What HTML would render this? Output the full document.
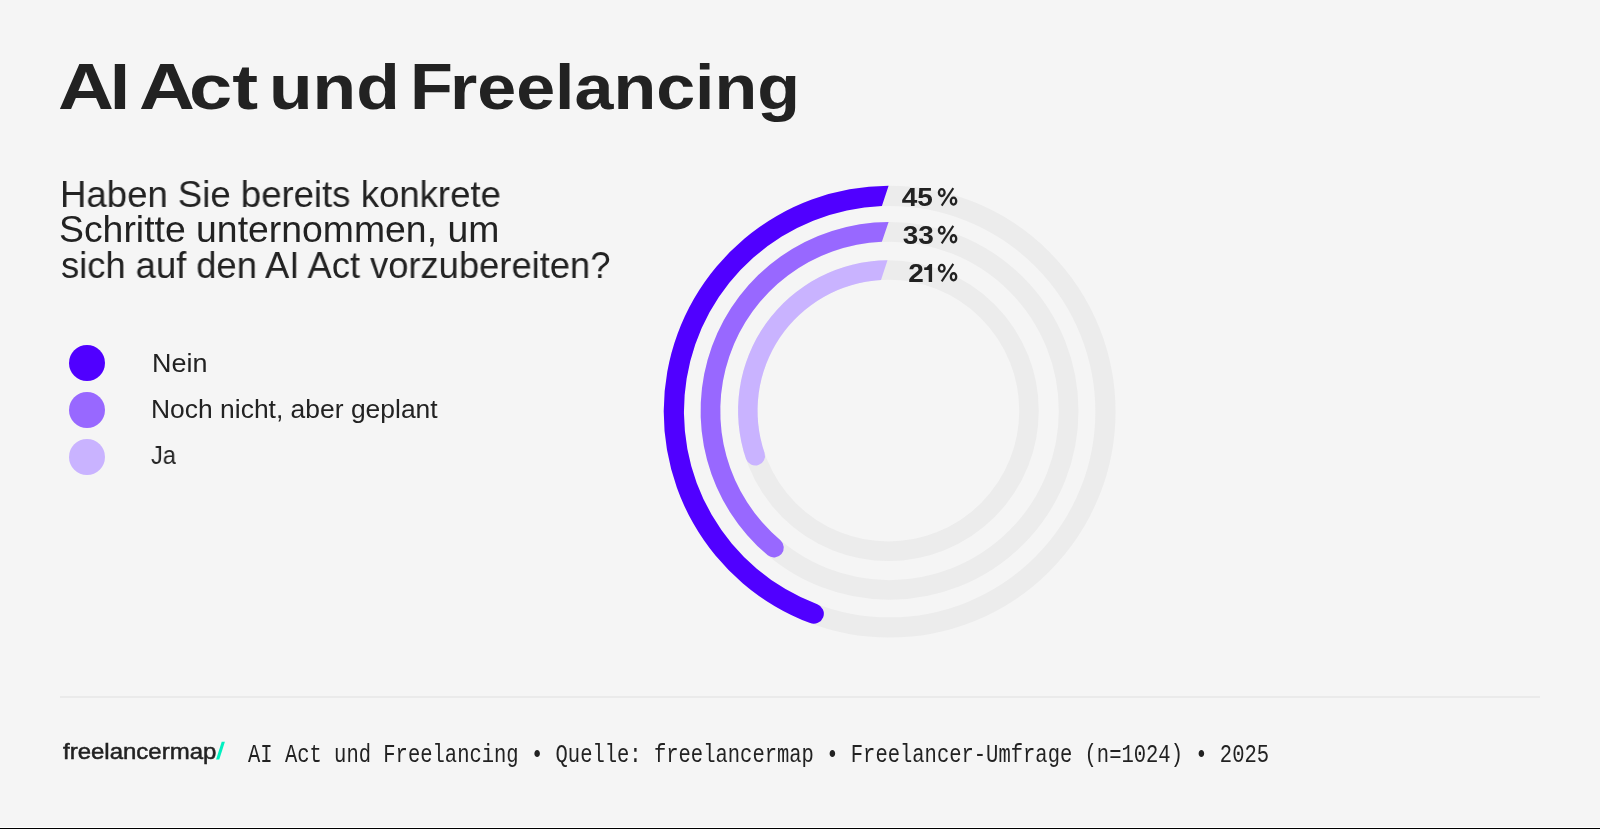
<!DOCTYPE html>
<html><head><meta charset="utf-8">
<style>
html,body{margin:0;padding:0;}
body{-webkit-font-smoothing:antialiased;width:1600px;height:829px;background:#f5f5f5;position:relative;overflow:hidden;font-family:"Liberation Sans",sans-serif;color:#222;}
.abs{position:absolute;white-space:nowrap;will-change:transform;}
.lc{display:inline-block;transform:scaleY(0.975);transform-origin:0 61px;}
.tw{top:46.5px;font-size:64px;font-weight:bold;line-height:80px;transform-origin:0 0;}
.sub{font-size:37px;line-height:40px;transform-origin:0 0;}
.dot{position:absolute;width:36px;height:36px;border-radius:50%;left:69px;}
.leg{font-size:26px;line-height:30px;transform-origin:0 0;}
.pct{font-size:25px;font-weight:bold;line-height:30px;transform-origin:0 0;}
.pc{font-weight:normal;-webkit-text-stroke:0.3px #222;}
.num{right:667px;text-align:right;transform-origin:100% 0;transform:scaleX(1.12);}
#sep{position:absolute;left:60px;top:696px;width:1480px;height:2px;background:#eaeaea;}
#logo{left:63.1px;font-size:22.5px;line-height:30px;transform-origin:0 0;transform:scaleX(1.066);-webkit-text-stroke:0.5px #222;}
#foot{left:248px;font-family:"Liberation Mono",monospace;font-size:20.5px;line-height:30px;transform-origin:0 0;transform:scaleY(1.25);}
#bot1{position:absolute;left:0;top:827px;width:1600px;height:1px;background:#fff;}
#bot2{position:absolute;left:0;top:828px;width:1600px;height:1px;background:#000;}
</style></head><body>
<div class="abs tw" style="left:57.60px;transform:scaleX(1.2100)">A</div><div class="abs tw" style="left:110.43px;transform:scaleX(1.1170)">I</div><div class="abs tw" style="left:139.08px;transform:scaleX(1.2086)">A</div><div class="abs tw" style="left:189.40px;transform:scaleX(1.2140)"><span class="lc">ct</span></div><div class="abs tw" style="left:269.29px;transform:scaleX(1.1157)"><span class="lc">und</span></div><div class="abs tw" style="left:410.07px;transform:scaleX(1.0955)">F</div><div class="abs tw" style="left:449.83px;transform:scaleX(1.0933)"><span class="lc">reelancing</span></div>
<div class="abs sub" style="top:175px;left:59.74px;transform:scaleX(0.9878)">Haben Sie bereits konkrete</div>
<div class="abs sub" style="top:210.4px;left:59.28px;transform:scaleX(1.01)">Schritte unternommen, um</div>
<div class="abs sub" style="top:245.6px;left:60.6px;transform:scaleX(0.982)">sich auf den AI Act vorzubereiten?</div>

<div class="dot" style="top:345px;background:#5000ff"></div>
<div class="dot" style="top:392px;background:#9868ff"></div>
<div class="dot" style="top:439px;background:#c9b3ff"></div>
<div class="abs leg" style="top:348px;left:151.5px;transform:scaleX(1.036)">Nein</div>
<div class="abs leg" style="top:394px;left:151px;transform:scaleX(1.017)">Noch nicht, aber geplant</div>
<div class="abs leg" style="top:440px;left:151.1px;transform:scaleX(0.908)">Ja</div>

<svg class="abs" style="left:0;top:0" width="1600" height="829" viewBox="0 0 1600 829">
  <g fill="none" stroke="#ececec">
    <circle cx="889.65" cy="411.65" r="215.8" stroke-width="20.2"/>
    <circle cx="889.55" cy="410.9" r="179.1" stroke-width="19.7"/>
    <circle cx="888.4" cy="410.7" r="140.6" stroke-width="19.5"/>
  </g>
<path fill="#5000ff" d="M888.60 185.75 A225.90 225.90 0 0 0 810.17 623.11 A10.10 10.10 0 0 0 817.28 604.20 A205.70 205.70 0 0 1 881.90 206.10 Z"/>
<path fill="#9868ff" d="M888.60 221.95 A188.95 188.95 0 0 0 767.77 555.37 A9.85 9.85 0 0 0 780.46 540.31 A169.25 169.25 0 0 1 881.90 241.82 Z"/>
<path fill="#c9b3ff" d="M887.50 260.35 A150.35 150.35 0 0 0 746.05 459.08 A9.75 9.75 0 0 0 764.51 452.80 A130.85 130.85 0 0 1 881.00 280.06 Z"/>

</svg>

<div class="abs pct num" style="top:182px">45</div>
<div class="abs pct num" style="top:220px;right:666px">33</div>
<div class="abs pct num" style="top:258px;right:676px">2</div><svg class="abs" style="left:0;top:0" width="1600" height="829"><polygon fill="#222" points="924.2,267.5 926.6,267.2 929.5,264.1 932.1,264.1 932.1,281.9 928.7,281.9 928.7,269.9 924.2,269.9"/></svg>

<svg class="abs" style="left:0;top:0" width="1600" height="829"><defs><g id="pc" fill="none" stroke="#222"><ellipse cx="941.76" cy="192.62" rx="2.85" ry="3.4" stroke-width="2.3"/><ellipse cx="953.53" cy="201.1" rx="2.7" ry="3.55" stroke-width="2.3"/><line x1="953.3" y1="188.2" x2="941.7" y2="205.6" stroke-width="2.1"/></g></defs><use href="#pc"/><use href="#pc" y="37.7"/><use href="#pc" y="75.7"/></svg>
<div id="sep"></div>
<div id="logo" class="abs" style="top:737px">freelancermap</div>
<svg class="abs" style="left:0;top:0" width="1600" height="829"><polygon fill="#00f0c0" points="221.7,741.8 224.9,741.8 219.3,759.5 216.1,759.5"/></svg>
<div id="foot" class="abs" style="top:736.5px">AI Act und Freelancing • Quelle: freelancermap • Freelancer-Umfrage (n=1024) • 2025</div>
<div id="bot1"></div><div id="bot2"></div>
</body></html>
